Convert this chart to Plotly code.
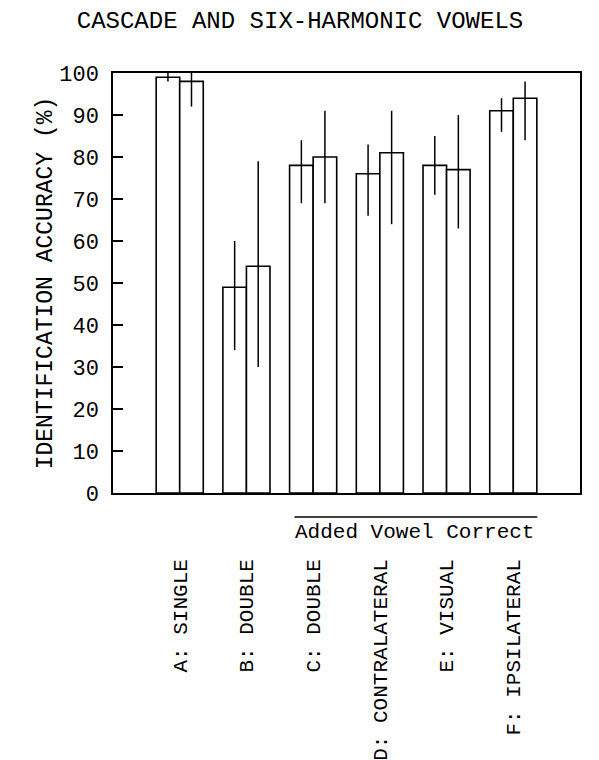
import plotly.graph_objects as go

categories = ["A: SINGLE", "B: DOUBLE", "C: DOUBLE", "D: CONTRALATERAL", "E: VISUAL", "F: IPSILATERAL"]
series1 = [99, 49, 78, 76, 78, 91]
series1_err_plus = [1, 11, 6, 7, 7, 3]
series1_err_minus = [1, 15, 9, 10, 7, 5]
series2 = [98, 54, 80, 81, 77, 94]
series2_err_plus = [2, 25, 11, 10, 13, 4]
series2_err_minus = [6, 24, 11, 17, 14, 10]
y_ticks = [0, 10, 20, 30, 40, 50, 60, 70, 80, 90, 100]

FONT = "Liberation Mono"
x_idx = list(range(len(categories)))

fig = go.Figure()
for vals, ep, em in [(series1, series1_err_plus, series1_err_minus),
                     (series2, series2_err_plus, series2_err_minus)]:
    fig.add_trace(go.Bar(
        x=x_idx, y=vals,
        marker=dict(color="white", line=dict(color="black", width=1.6)),
        error_y=dict(type="data", symmetric=False, array=ep, arrayminus=em,
                     color="black", thickness=1.5, width=0),
        showlegend=False,
    ))

fig.update_layout(
    width=599, height=760,
    barmode="group", bargap=0.294, bargroupgap=0,
    plot_bgcolor="white", paper_bgcolor="white",
    margin=dict(l=113, r=19, t=73, b=267, autoexpand=False),
    font=dict(family=FONT, color="black"),
    title=dict(text="CASCADE AND SIX-HARMONIC VOWELS", x=300/599, xanchor="center",
               y=1 - 20/760, yanchor="middle", font=dict(size=24, family=FONT)),
    xaxis=dict(
        range=[-1, 6], tickmode="array", tickvals=x_idx, ticktext=categories,
        tickangle=-90, ticks="", showgrid=False, zeroline=False, automargin=False,
        showline=True, linecolor="black", linewidth=1.5, mirror=True,
        tickfont=dict(size=21, family=FONT), ticklabelstandoff=56,
    ),
    yaxis=dict(
        range=[0, 100], tickmode="array", tickvals=y_ticks, automargin=False,
        ticks="inside", ticklen=10, tickwidth=1.5, tickcolor="black",
        showgrid=False, zeroline=False,
        showline=True, linecolor="black", linewidth=1.5, mirror=True,
        tickfont=dict(size=22, family=FONT), ticklabelstandoff=8,
        title=dict(text="IDENTIFICATION ACCURACY (%)", font=dict(size=23, family=FONT), standoff=0),
    ),
)

# "Added Vowel Correct" group label with overline spanning C..F
fig.add_shape(type="line", xref="x", yref="paper", x0=1.72, x1=5.36, y0=-0.057, y1=-0.057,
              line=dict(color="black", width=1.5))
fig.add_annotation(text="Added Vowel Correct", xref="x", yref="paper", x=3.52, y=-0.062,
                   yanchor="top", showarrow=False, font=dict(size=21, family=FONT))

fig.write_html("out.html", config={"displayModeBar": False},
               post_script="document.body.style.margin='0';")
